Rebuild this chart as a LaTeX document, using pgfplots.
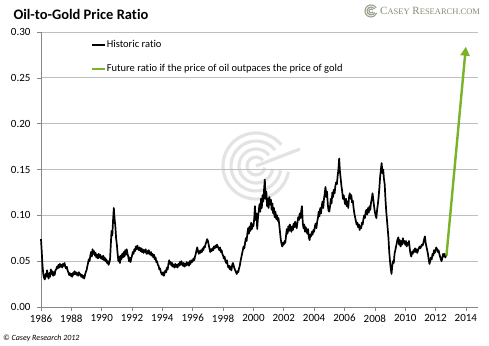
\documentclass[border=0pt]{standalone}
\usepackage{fontspec}
\setmainfont{Carlito}[Ligatures=NoCommon]
\newfontfamily\logofont{Liberation Serif}
\usepackage{pgfplots}
\pgfplotsset{compat=1.18}
\usetikzlibrary{arrows.meta}
\definecolor{gridgray}{RGB}{191,191,191}
\definecolor{axgray}{RGB}{134,134,134}
\definecolor{fgreen}{RGB}{122,178,40}
\definecolor{logogray}{RGB}{130,142,112}
\begin{document}
\begin{tikzpicture}
\useasboundingbox (0pt,0pt) rectangle (489pt,345pt);
% watermark
\begin{scope}[gray!22, line width=3.2pt]
\foreach \r in {9,17,25,33} {\draw (256pt,179pt) ++(40:\r pt) arc[start angle=40, end angle=350, radius=\r pt];}
\draw (256pt,179pt) -- (300pt,196pt);
\end{scope}
\begin{axis}[
  at={(41pt,38pt)}, anchor=south west,
  width=437pt, height=275pt, scale only axis,
  xmin=1986, xmax=2014.8, ymin=0, ymax=0.30,
  xtick={1986,1988,...,2014},
  ytick={0,0.05,0.1,0.15,0.2,0.25,0.3},
  axis x line*=bottom, axis y line*=left,
  axis line style={axgray, line width=0.6pt},
  tick style={axgray, line width=0.6pt},
  tick align=outside, major tick length=4pt,
  ymajorgrids, grid style={gridgray, line width=0.7pt},
  /pgf/number format/assume math mode=true,
  xticklabel style={/pgf/number format/1000 sep={}, font=\fontsize{11}{13}\selectfont},
  yticklabel style={/pgf/number format/fixed, /pgf/number format/fixed zerofill, /pgf/number format/precision=2, font=\fontsize{11}{13}\selectfont, xshift=-3pt},
  legend style={draw=none, fill=none, at={(0.107,0.978)}, anchor=north west, font=\fontsize{10.5}{12}\selectfont, row sep=14pt, nodes={inner sep=0.5pt}},
  legend image code/.code={\draw[#1,-] (0pt,0pt) -- (13pt,0pt);},
  legend cell align=left,
  clip=false,
]
\addplot[black, line width=1.7pt, line join=round] coordinates {
(1986.00,0.074)(1986.05,0.060)(1986.10,0.045)(1986.15,0.036)(1986.20,0.032)(1986.25,0.030)(1986.30,0.036)(1986.35,0.033)(1986.40,0.040)(1986.45,0.034)(1986.50,0.031)(1986.55,0.037)(1986.60,0.033)(1986.65,0.041)(1986.70,0.036)(1986.75,0.039)(1986.80,0.034)(1986.85,0.038)(1986.90,0.035)(1986.95,0.040)
(1987.00,0.041)(1987.05,0.044)(1987.10,0.042)(1987.15,0.046)(1987.20,0.043)(1987.25,0.047)(1987.30,0.044)(1987.35,0.046)(1987.40,0.043)(1987.45,0.047)(1987.50,0.045)(1987.55,0.048)(1987.60,0.044)(1987.65,0.042)(1987.70,0.044)(1987.75,0.040)(1987.80,0.038)(1987.85,0.035)(1987.90,0.037)(1987.95,0.034)
(1988.00,0.036)(1988.05,0.033)(1988.10,0.037)(1988.15,0.035)(1988.20,0.039)(1988.25,0.036)(1988.30,0.038)(1988.35,0.035)(1988.40,0.037)(1988.45,0.034)(1988.50,0.038)(1988.55,0.035)(1988.60,0.036)(1988.65,0.033)(1988.70,0.035)(1988.75,0.032)(1988.80,0.034)(1988.85,0.031)(1988.90,0.035)(1988.95,0.038)
(1989.00,0.040)(1989.05,0.044)(1989.10,0.048)(1989.15,0.052)(1989.20,0.050)(1989.25,0.056)(1989.30,0.060)(1989.35,0.055)(1989.40,0.063)(1989.45,0.058)(1989.50,0.061)(1989.55,0.056)(1989.60,0.059)(1989.65,0.054)(1989.70,0.057)(1989.75,0.053)(1989.80,0.058)(1989.85,0.054)(1989.90,0.057)(1989.95,0.053)
(1990.00,0.055)(1990.05,0.052)(1990.10,0.056)(1990.15,0.051)(1990.20,0.054)(1990.25,0.050)(1990.30,0.052)(1990.35,0.048)(1990.40,0.050)(1990.45,0.046)(1990.50,0.048)(1990.55,0.052)(1990.60,0.068)(1990.65,0.083)(1990.70,0.078)(1990.75,0.095)(1990.80,0.108)(1990.85,0.096)(1990.90,0.088)(1990.95,0.075)
(1991.00,0.068)(1991.05,0.058)(1991.10,0.050)(1991.15,0.055)(1991.20,0.048)(1991.25,0.056)(1991.30,0.052)(1991.35,0.058)(1991.40,0.054)(1991.45,0.060)(1991.50,0.055)(1991.55,0.062)(1991.60,0.057)(1991.65,0.063)(1991.70,0.058)(1991.75,0.055)(1991.80,0.050)(1991.85,0.054)(1991.90,0.049)(1991.95,0.053)
(1992.00,0.056)(1992.05,0.060)(1992.10,0.058)(1992.15,0.063)(1992.20,0.061)(1992.25,0.066)(1992.30,0.063)(1992.35,0.067)(1992.40,0.064)(1992.45,0.062)(1992.50,0.065)(1992.55,0.061)(1992.60,0.064)(1992.65,0.060)(1992.70,0.063)(1992.75,0.059)(1992.80,0.062)(1992.85,0.060)(1992.90,0.063)(1992.95,0.058)
(1993.00,0.061)(1993.05,0.058)(1993.10,0.062)(1993.15,0.059)(1993.20,0.057)(1993.25,0.060)(1993.30,0.056)(1993.35,0.058)(1993.40,0.054)(1993.45,0.057)(1993.50,0.052)(1993.55,0.054)(1993.60,0.049)(1993.65,0.050)(1993.70,0.046)(1993.75,0.045)(1993.80,0.041)(1993.85,0.042)(1993.90,0.038)(1993.95,0.036)
(1994.00,0.035)(1994.05,0.038)(1994.10,0.034)(1994.15,0.037)(1994.20,0.040)(1994.25,0.038)(1994.30,0.043)(1994.35,0.041)(1994.40,0.047)(1994.45,0.051)(1994.50,0.047)(1994.55,0.049)(1994.60,0.045)(1994.65,0.048)(1994.70,0.044)(1994.75,0.046)(1994.80,0.043)(1994.85,0.047)(1994.90,0.044)(1994.95,0.046)
(1995.00,0.043)(1995.05,0.047)(1995.10,0.045)(1995.15,0.049)(1995.20,0.046)(1995.25,0.050)(1995.30,0.047)(1995.35,0.045)(1995.40,0.048)(1995.45,0.044)(1995.50,0.047)(1995.55,0.045)(1995.60,0.049)(1995.65,0.046)(1995.70,0.048)(1995.75,0.045)(1995.80,0.050)(1995.85,0.047)(1995.90,0.051)(1995.95,0.049)
(1996.00,0.050)(1996.05,0.053)(1996.10,0.051)(1996.15,0.055)(1996.20,0.058)(1996.25,0.062)(1996.30,0.065)(1996.35,0.061)(1996.40,0.058)(1996.45,0.061)(1996.50,0.059)(1996.55,0.062)(1996.60,0.060)(1996.65,0.064)(1996.70,0.062)(1996.75,0.066)(1996.80,0.065)(1996.85,0.069)(1996.90,0.071)(1996.95,0.074)
(1997.00,0.072)(1997.05,0.068)(1997.10,0.064)(1997.15,0.060)(1997.20,0.063)(1997.25,0.061)(1997.30,0.064)(1997.35,0.062)(1997.40,0.066)(1997.45,0.064)(1997.50,0.067)(1997.55,0.065)(1997.60,0.068)(1997.65,0.066)(1997.70,0.064)(1997.75,0.062)(1997.80,0.065)(1997.85,0.060)(1997.90,0.062)(1997.95,0.058)
(1998.00,0.056)(1998.05,0.053)(1998.10,0.055)(1998.15,0.050)(1998.20,0.048)(1998.25,0.051)(1998.30,0.046)(1998.35,0.043)(1998.40,0.045)(1998.45,0.041)(1998.50,0.044)(1998.55,0.040)(1998.60,0.046)(1998.65,0.048)(1998.70,0.045)(1998.75,0.042)(1998.80,0.040)(1998.85,0.038)(1998.90,0.036)(1998.95,0.039)
(1999.00,0.038)(1999.05,0.042)(1999.10,0.045)(1999.15,0.050)(1999.20,0.054)(1999.25,0.058)(1999.30,0.062)(1999.35,0.066)(1999.40,0.064)(1999.45,0.070)(1999.50,0.075)(1999.55,0.072)(1999.60,0.080)(1999.65,0.086)(1999.70,0.080)(1999.75,0.088)(1999.80,0.083)(1999.85,0.092)(1999.90,0.085)(1999.95,0.090)
(2000.00,0.088)(2000.05,0.096)(2000.10,0.110)(2000.15,0.095)(2000.20,0.102)(2000.25,0.085)(2000.30,0.098)(2000.35,0.105)(2000.40,0.112)(2000.45,0.104)(2000.50,0.118)(2000.55,0.108)(2000.60,0.122)(2000.65,0.115)(2000.70,0.128)(2000.75,0.139)(2000.80,0.118)(2000.85,0.126)(2000.90,0.110)(2000.95,0.118)
(2001.00,0.108)(2001.05,0.120)(2001.10,0.112)(2001.15,0.117)(2001.20,0.106)(2001.25,0.113)(2001.30,0.102)(2001.35,0.108)(2001.40,0.098)(2001.45,0.104)(2001.50,0.096)(2001.55,0.100)(2001.60,0.094)(2001.65,0.097)(2001.70,0.090)(2001.75,0.082)(2001.80,0.074)(2001.85,0.069)(2001.90,0.066)(2001.95,0.070)
(2002.00,0.068)(2002.05,0.072)(2002.10,0.070)(2002.15,0.078)(2002.20,0.085)(2002.25,0.080)(2002.30,0.088)(2002.35,0.083)(2002.40,0.090)(2002.45,0.086)(2002.50,0.082)(2002.55,0.088)(2002.60,0.084)(2002.65,0.091)(2002.70,0.087)(2002.75,0.093)(2002.80,0.089)(2002.85,0.086)(2002.90,0.092)(2002.95,0.098)
(2003.00,0.095)(2003.05,0.102)(2003.10,0.097)(2003.15,0.105)(2003.20,0.110)(2003.25,0.092)(2003.30,0.086)(2003.35,0.090)(2003.40,0.082)(2003.45,0.087)(2003.50,0.084)(2003.55,0.080)(2003.60,0.085)(2003.65,0.076)(2003.70,0.073)(2003.75,0.079)(2003.80,0.077)(2003.85,0.082)(2003.90,0.079)(2003.95,0.084)
(2004.00,0.082)(2004.05,0.088)(2004.10,0.091)(2004.15,0.086)(2004.20,0.093)(2004.25,0.097)(2004.30,0.104)(2004.35,0.099)(2004.40,0.108)(2004.45,0.102)(2004.50,0.110)(2004.55,0.115)(2004.60,0.108)(2004.65,0.118)(2004.70,0.124)(2004.75,0.131)(2004.80,0.120)(2004.85,0.126)(2004.90,0.112)(2004.95,0.105)
(2005.00,0.104)(2005.05,0.110)(2005.10,0.118)(2005.15,0.113)(2005.20,0.125)(2005.25,0.120)(2005.30,0.128)(2005.35,0.124)(2005.40,0.132)(2005.45,0.136)(2005.50,0.134)(2005.55,0.143)(2005.60,0.150)(2005.65,0.162)(2005.70,0.148)(2005.75,0.140)(2005.80,0.132)(2005.85,0.126)(2005.90,0.118)(2005.95,0.122)
(2006.00,0.116)(2006.05,0.112)(2006.10,0.118)(2006.15,0.110)(2006.20,0.115)(2006.25,0.108)(2006.30,0.120)(2006.35,0.124)(2006.40,0.118)(2006.45,0.122)(2006.50,0.114)(2006.55,0.116)(2006.60,0.108)(2006.65,0.102)(2006.70,0.098)(2006.75,0.094)(2006.80,0.090)(2006.85,0.092)(2006.90,0.087)(2006.95,0.090)
(2007.00,0.084)(2007.05,0.088)(2007.10,0.086)(2007.15,0.092)(2007.20,0.090)(2007.25,0.096)(2007.30,0.100)(2007.35,0.097)(2007.40,0.104)(2007.45,0.106)(2007.50,0.101)(2007.55,0.108)(2007.60,0.103)(2007.65,0.110)(2007.70,0.106)(2007.75,0.114)(2007.80,0.118)(2007.85,0.124)(2007.90,0.117)(2007.95,0.110)
(2008.00,0.104)(2008.05,0.100)(2008.10,0.097)(2008.15,0.106)(2008.20,0.112)(2008.25,0.120)(2008.30,0.130)(2008.35,0.142)(2008.40,0.150)(2008.45,0.157)(2008.50,0.146)(2008.55,0.150)(2008.60,0.140)(2008.65,0.134)(2008.70,0.118)(2008.75,0.105)(2008.80,0.095)(2008.85,0.085)(2008.90,0.075)(2008.95,0.060)
(2009.00,0.050)(2009.05,0.042)(2009.10,0.036)(2009.15,0.045)(2009.20,0.050)(2009.25,0.048)(2009.30,0.058)(2009.35,0.062)(2009.40,0.066)(2009.45,0.070)(2009.50,0.074)(2009.55,0.076)(2009.60,0.068)(2009.65,0.073)(2009.70,0.066)(2009.75,0.072)(2009.80,0.068)(2009.85,0.075)(2009.90,0.070)(2009.95,0.072)
(2010.00,0.068)(2010.05,0.072)(2010.10,0.066)(2010.15,0.070)(2010.20,0.068)(2010.25,0.072)(2010.30,0.064)(2010.35,0.058)(2010.40,0.055)(2010.45,0.060)(2010.50,0.058)(2010.55,0.062)(2010.60,0.060)(2010.65,0.064)(2010.70,0.060)(2010.75,0.063)(2010.80,0.059)(2010.85,0.062)(2010.90,0.064)(2010.95,0.066)
(2011.00,0.064)(2011.05,0.066)(2011.10,0.068)(2011.15,0.067)(2011.20,0.070)(2011.25,0.074)(2011.30,0.077)(2011.35,0.070)(2011.40,0.066)(2011.45,0.062)(2011.50,0.058)(2011.55,0.052)(2011.60,0.047)(2011.65,0.050)(2011.70,0.054)(2011.75,0.052)(2011.80,0.058)(2011.85,0.056)(2011.90,0.062)(2011.95,0.059)
(2012.00,0.062)(2012.05,0.065)(2012.10,0.063)(2012.15,0.060)(2012.20,0.062)(2012.25,0.058)(2012.30,0.055)(2012.35,0.052)(2012.40,0.050)(2012.45,0.054)(2012.50,0.058)(2012.55,0.055)(2012.60,0.058)(2012.65,0.054)(2012.70,0.057)(2012.72,0.056)
};
\addlegendentry{Historic ratio}
\addplot[fgreen, line width=2.4pt, -{Triangle[length=9pt,width=9pt]}] coordinates {(2012.72,0.056)(2014.0,0.284)};
\addlegendentry{Future ratio if the price of oil outpaces the price of gold}
\end{axis}
\node[anchor=west, font=\bfseries\fontsize{14.5}{17}\selectfont] at (10pt,331pt) {Oil-to-Gold Price Ratio};
\node[anchor=west, font=\itshape\fontsize{8}{10}\selectfont, inner sep=0pt] at (3pt,7pt) {\textcopyright{} Casey Research 2012};
\node[anchor=west, text=logogray, inner sep=0pt] at (380pt,334pt) {\logofont\fontsize{11}{13}\selectfont C{\fontsize{8.5}{10}\selectfont ASEY} R{\fontsize{8.5}{10}\selectfont ESEARCH.COM}};
\begin{scope}[logogray!80, line width=1.2pt]
\foreach \r in {2,4,6} {\draw (371pt,334pt) ++(30:\r pt) arc[start angle=30, end angle=340, radius=\r pt];}
\end{scope}
\end{tikzpicture}
\end{document}
